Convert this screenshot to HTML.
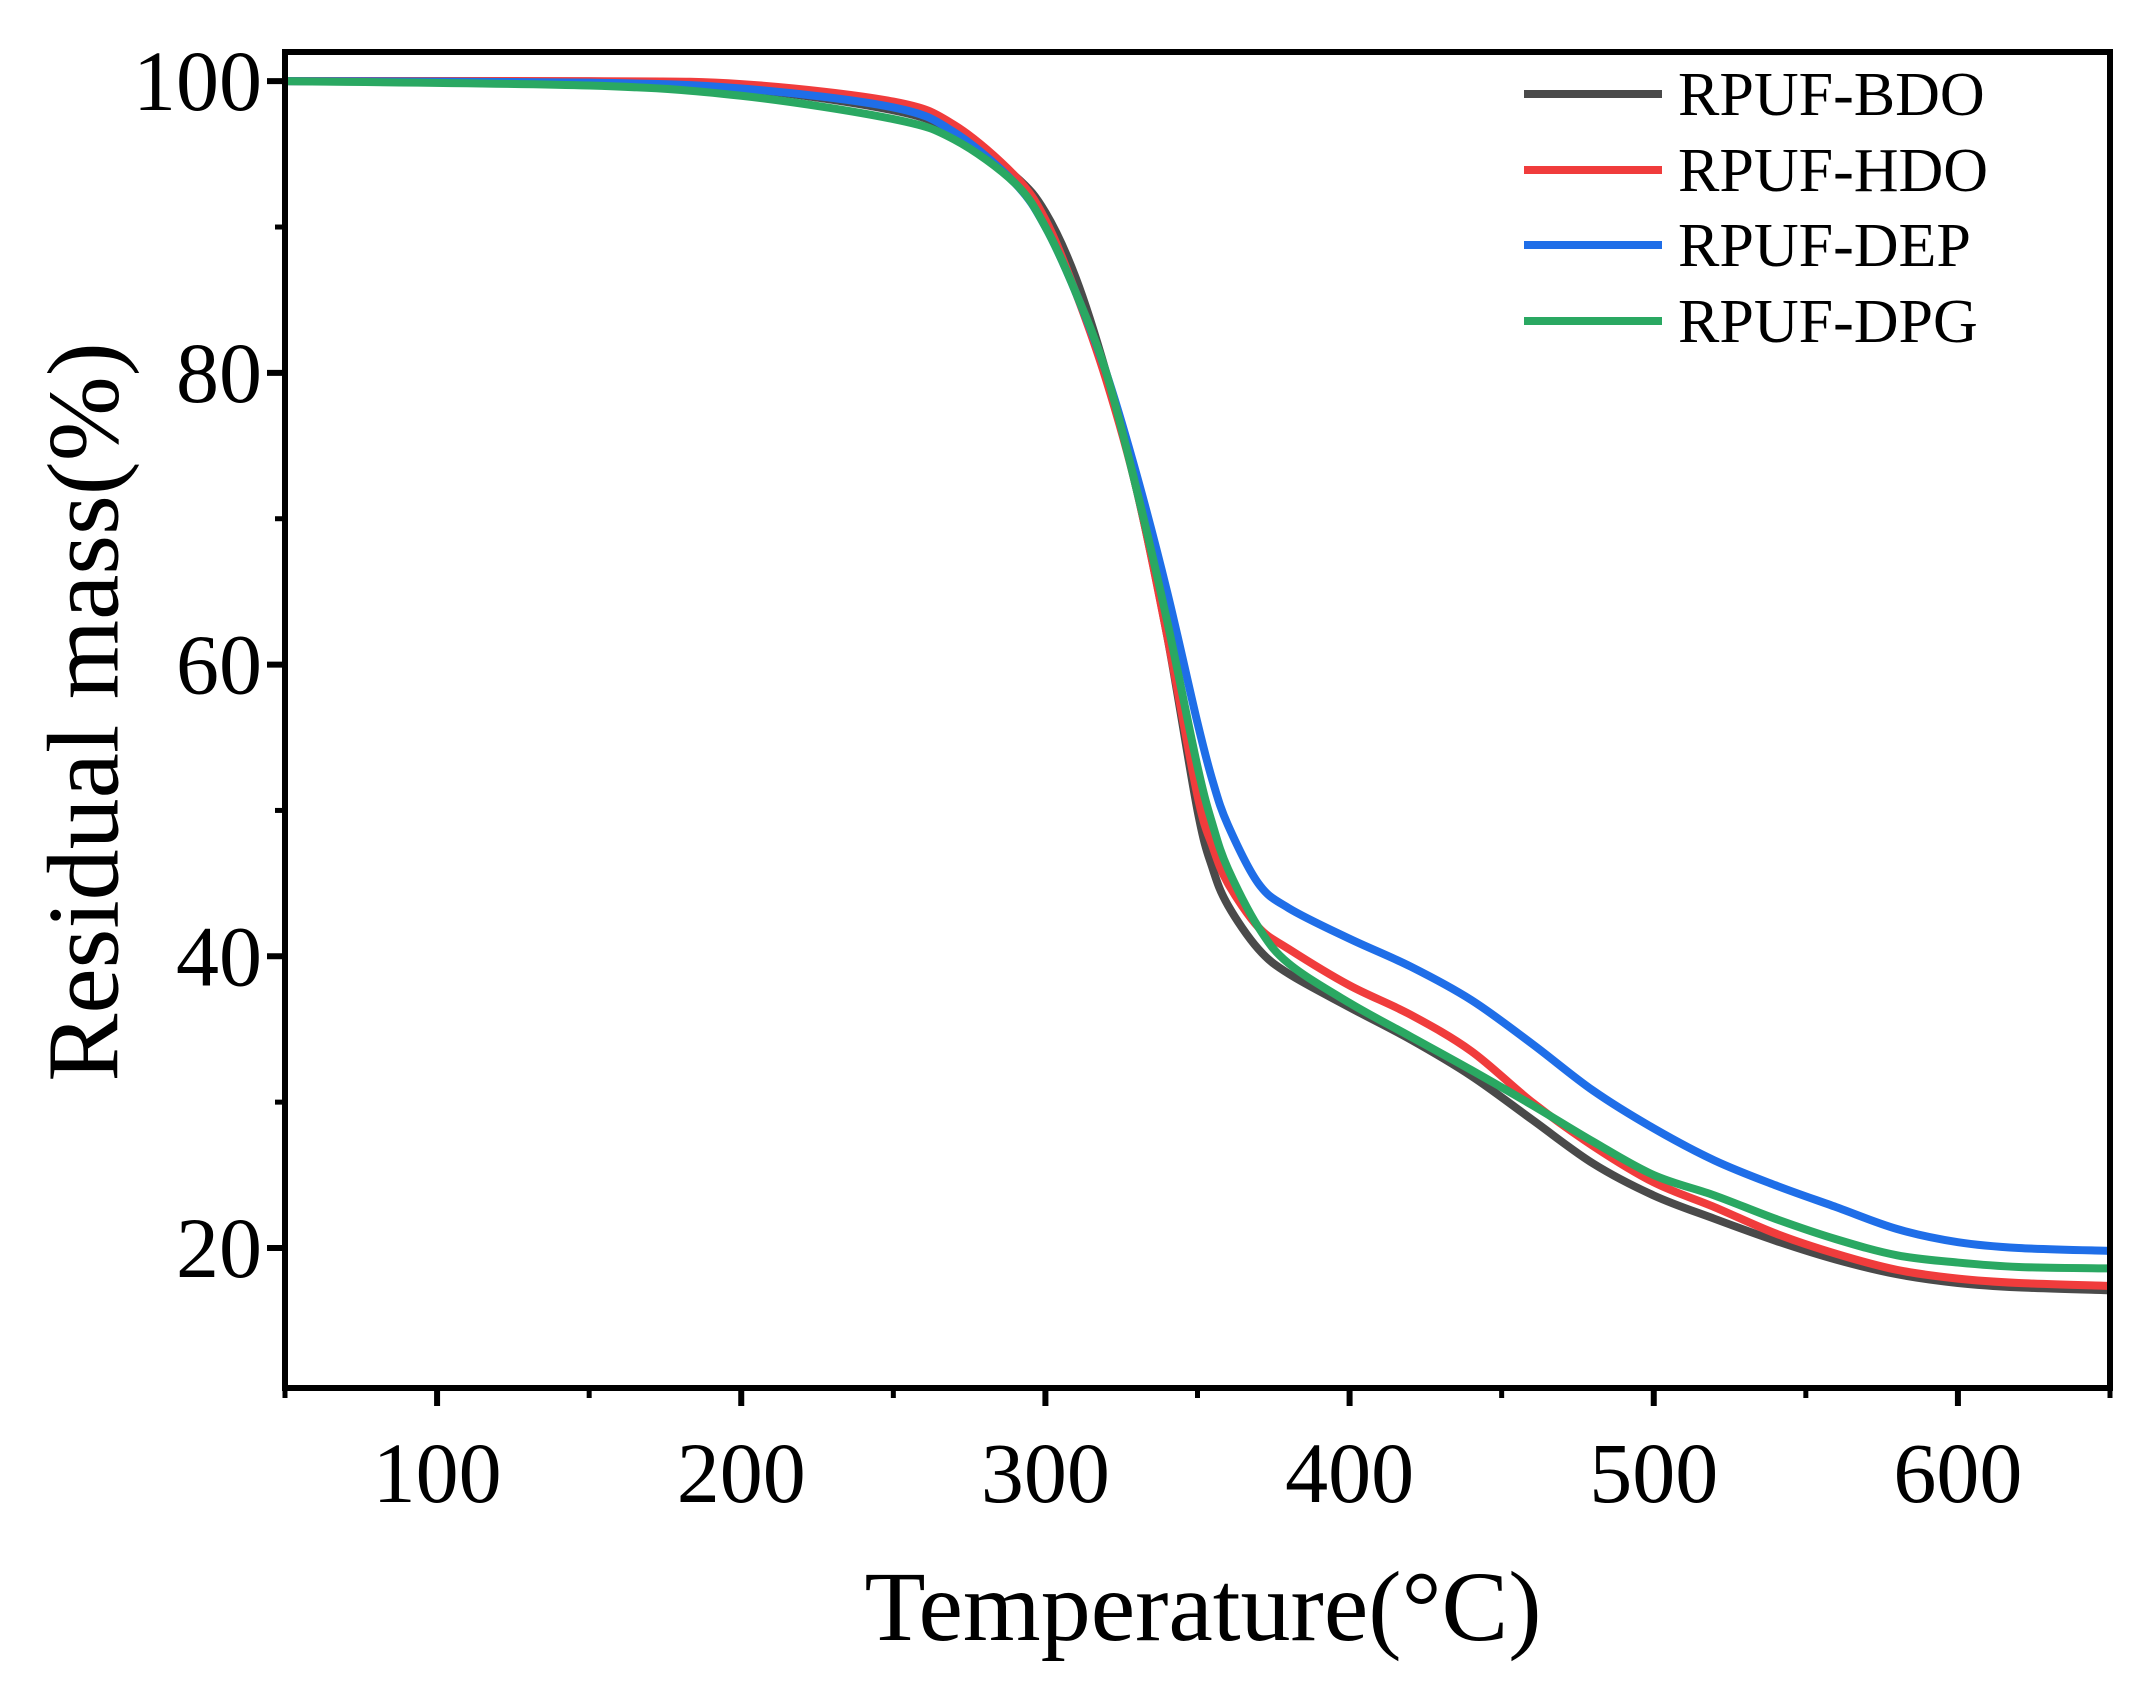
<!DOCTYPE html>
<html><head><meta charset="utf-8"><style>
html,body{margin:0;padding:0;background:#fff;}
svg{display:block;font-family:"Liberation Serif",serif;}
</style></head><body>
<svg id="chart" width="2151" height="1682">
<g id="ticks"></g>
<g id="lines"></g>
<rect x="285" y="52" width="1825" height="1336" fill="none" stroke="#000" stroke-width="6"/>
<text x="94" y="712" font-size="102" text-anchor="middle" dominant-baseline="middle" transform="rotate(-90 94 712)">Residual mass(%)</text>
<text x="1203" y="1640" font-size="100" text-anchor="middle">Temperature(°C)</text>
<g id="legend"></g>
</svg>
<script>
const xTicks=[100,200,300,400,500,600];
const xMinor=[50,150,250,350,450,550,650];
const yTicks=[20,40,60,80,100];
const yMinor=[30,50,70,90];
const seriesNames=["RPUF-BDO","RPUF-HDO","RPUF-DEP","RPUF-DPG"];
const seriesColors=["#4a4a4a","#f03c3c","#1f6ee8","#2aa862"];
const temps=[50,150,200,250,270,290,300,310,320,330,340,350,355,360,370,380,400,420,440,460,480,500,520,540,560,580,600,620,650];
const bdo=[100,99.9,99.5,98,96.5,93.5,91,86.5,80,72,62,50,46,43.5,40.5,38.8,36.5,34.3,31.8,28.8,25.8,23.6,22,20.5,19.2,18.2,17.6,17.3,17.1];
const hdo=[100,100,99.8,98.6,97,93.5,90.5,85.5,79.5,72,62,51,47.5,45,42,40.5,38,36,33.5,30,27,24.5,22.8,21,19.6,18.5,17.9,17.6,17.4];
const dep=[100,99.9,99.5,98.2,96.5,93,90,85.5,80,73,65,56,52,49,45,43.3,41.2,39.3,37,34,30.8,28.2,26,24.3,22.8,21.3,20.4,20,19.8];
const dpg=[100,99.7,99,97.4,96,93,90,85.5,80,72,63,53,49,46,42,39.5,36.8,34.5,32.2,29.8,27.3,25,23.6,22,20.6,19.5,19,18.7,18.6];
const seriesData=[bdo,hdo,dep,dpg];
const X0=285,X1=2110,Y0=52,Y1=1388,xmin=50,xmax=650,ymin=10.4,ymax=102;
const sx=v=>X0+(v-xmin)/(xmax-xmin)*(X1-X0);
const sy=v=>Y1-(v-ymin)/(ymax-ymin)*(Y1-Y0);
const NS="http://www.w3.org/2000/svg";
const tg=document.getElementById('ticks');
function mk(tag,attrs,parent){const e=document.createElementNS(NS,tag);for(const k in attrs)e.setAttribute(k,attrs[k]);parent.appendChild(e);return e;}
xTicks.forEach(t=>{
 const l=mk('line',{x1:sx(t),x2:sx(t),y1:Y1,y2:Y1+18,stroke:'#000','stroke-width':6},tg);
 
 
 const tx=mk('text',{x:sx(t),y:1502,'font-size':86,'text-anchor':'middle'},tg);tx.textContent=t;
 
 
});
xMinor.forEach(t=>{
 const l=mk('line',{x1:sx(t),x2:sx(t),y1:Y1,y2:Y1+10,stroke:'#000','stroke-width':5},tg);
 
 
});
yTicks.forEach(t=>{
 const l=mk('line',{x1:X0-18,x2:X0,y1:sy(t),y2:sy(t),stroke:'#000','stroke-width':6},tg);
 
 
 const tx=mk('text',{x:262,y:sy(t)+29,'font-size':86,'text-anchor':'end'},tg);tx.textContent=t;
 
 
});
yMinor.forEach(t=>{
 const l=mk('line',{x1:X0-10,x2:X0,y1:sy(t),y2:sy(t),stroke:'#000','stroke-width':5},tg);
 
 
});
const lg=document.getElementById('lines');
function smoothPath(xs,ys){
 const p=xs.map((x,i)=>[sx(x),sy(ys[i])]);
 let d='M'+p[0][0]+','+p[0][1];
 for(let i=0;i<p.length-1;i++){
  const p0=p[i-1]||p[i],p1=p[i],p2=p[i+1],p3=p[i+2]||p2;
  const c1=[p1[0]+(p2[0]-p0[0])/6,p1[1]+(p2[1]-p0[1])/6];
  const c2=[p2[0]-(p3[0]-p1[0])/6,p2[1]-(p3[1]-p1[1])/6];
  d+=' C'+c1[0]+','+c1[1]+' '+c2[0]+','+c2[1]+' '+p2[0]+','+p2[1];
 }
 return d;
}
seriesData.forEach((s,i)=>{
 const p=mk('path',{d:smoothPath(temps,s),fill:'none',stroke:seriesColors[i],'stroke-width':8,'stroke-linejoin':'round'},lg);
 
 
});
const leg=document.getElementById('legend');
const legY=[94,170,245,321];
seriesNames.forEach((n,i)=>{
 const l=mk('line',{x1:1524,x2:1662,y1:legY[i],y2:legY[i],stroke:seriesColors[i],'stroke-width':8},leg);
 
 
 const t=mk('text',{x:1678,y:legY[i]+21,'font-size':62},leg);t.textContent=n;
 
 
});
</script>
</body></html>
